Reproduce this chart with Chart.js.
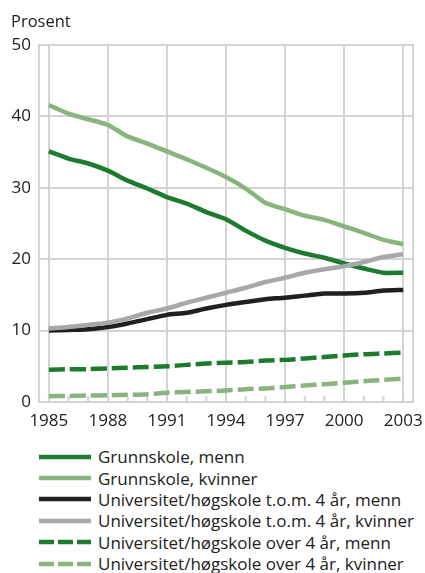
<!DOCTYPE html>
<html>
<head>
<meta charset="utf-8">
<script src="https://cdn.jsdelivr.net/npm/chart.js@4/dist/chart.umd.min.js"></script>
<style>
    body { margin: 0; background: #fff; font-family: "Open Sans", sans-serif; color: #222; }
    #wrap { position: relative; width: 425px; height: 573px; overflow: hidden; }
    #chartBox { position: absolute; left: 0; top: 0; width: 425px; height: 440px; }
    #unit { position: absolute; left: 11px; top: 9px; font-size: 16.5px; }
    #legend { position: absolute; left: 39px; top: 446px; }
    .row { display: flex; align-items: center; height: 21.4px; font-size: 17px; white-space: nowrap; }
    .row svg { width: 52px; height: 10px; margin-right: 7px; }
</style>
</head>
<body>
<div id="wrap">
    <div id="chartBox"><canvas id="chart" width="425" height="440"></canvas></div>
    <div id="unit">Prosent</div>
    <div id="legend"></div>
</div>
<script>
// Data
const years = [1985, 1986, 1987, 1988, 1989, 1990, 1991, 1992, 1993, 1994,
               1995, 1996, 1997, 1998, 1999, 2000, 2001, 2002, 2003];
const xTickYears = [1985, 1988, 1991, 1994, 1997, 2000, 2003];
const yTicks = [0, 10, 20, 30, 40, 50];

const grunnMenn      = [35.1, 34.1, 33.4, 32.4, 31.0, 29.9, 28.7, 27.8, 26.6, 25.6, 24.0, 22.6, 21.6, 20.8, 20.2, 19.4, 18.7, 18.1, 18.1];
const grunnKvinner   = [41.6, 40.4, 39.6, 38.8, 37.2, 36.2, 35.1, 34.0, 32.8, 31.5, 29.9, 27.9, 27.0, 26.1, 25.5, 24.6, 23.7, 22.7, 22.1];
const uniKortMenn    = [10.0, 10.1, 10.2, 10.5, 11.0, 11.6, 12.2, 12.5, 13.1, 13.6, 14.0, 14.4, 14.6, 14.9, 15.2, 15.2, 15.3, 15.6, 15.7];
const uniKortKvinner = [10.3, 10.5, 10.8, 11.1, 11.7, 12.5, 13.1, 13.9, 14.6, 15.3, 16.0, 16.8, 17.4, 18.1, 18.6, 19.0, 19.6, 20.3, 20.7];
const uniLangMenn    = [4.5, 4.6, 4.6, 4.7, 4.8, 4.9, 5.0, 5.2, 5.4, 5.5, 5.6, 5.8, 5.9, 6.1, 6.3, 6.5, 6.7, 6.8, 6.9];
const uniLangKvinner = [0.8, 0.85, 0.9, 0.95, 1.0, 1.1, 1.3, 1.4, 1.5, 1.6, 1.8, 1.9, 2.1, 2.3, 2.5, 2.7, 2.9, 3.1, 3.3];

const DARK_GREEN = '#1d7a2f';
const LIGHT_GREEN = '#8ab47e';
const BLACK = '#231f20';
const GREY = '#a8a8ab';
const GRID = '#d3d3d3';

const series = [
    { label: 'Grunnskole, menn', values: grunnMenn, color: DARK_GREEN, dash: [] },
    { label: 'Grunnskole, kvinner', values: grunnKvinner, color: LIGHT_GREEN, dash: [] },
    { label: 'Universitet/høgskole t.o.m. 4 år, menn', values: uniKortMenn, color: BLACK, dash: [] },
    { label: 'Universitet/høgskole t.o.m. 4 år, kvinner', values: uniKortKvinner, color: GREY, dash: [] },
    { label: 'Universitet/høgskole over 4 år, menn', values: uniLangMenn, color: DARK_GREEN, dash: [16, 5] },
    { label: 'Universitet/høgskole over 4 år, kvinner', values: uniLangKvinner, color: LIGHT_GREEN, dash: [16, 5] }
];

// Draw order: later series on top, like the reference
const drawOrder = [5, 4, 3, 2, 1, 0];

const tickFont = { family: '"Open Sans", sans-serif', size: 17 };

// small year ticks on the bottom axis + right frame line
const framePlugin = {
    id: 'frame',
    beforeDatasetsDraw(chart) {
        const { ctx, chartArea, scales } = chart;
        ctx.save();
        ctx.strokeStyle = GRID;
        ctx.lineWidth = 2;
        ctx.beginPath();
        years.forEach(yr => {
            const x = scales.x.getPixelForValue(yr);
            ctx.moveTo(x, chartArea.bottom);
            ctx.lineTo(x, chartArea.bottom - 6);
        });
        ctx.moveTo(chartArea.right, chartArea.top - 1);
        ctx.lineTo(chartArea.right, chartArea.bottom + 1);
        ctx.stroke();
        ctx.restore();
    }
};

new Chart(document.getElementById('chart'), {
    type: 'line',
    data: {
        datasets: drawOrder.map(i => ({
            label: series[i].label,
            data: years.map((yr, k) => ({ x: yr, y: series[i].values[k] })),
            borderColor: series[i].color,
            borderDash: series[i].dash,
            borderWidth: 4.5,
            borderCapStyle: 'butt',
            borderJoinStyle: 'round',
            pointRadius: 0,
            tension: 0.25,
            fill: false
        }))
    },
    options: {
        responsive: false,
        animation: false,
        layout: { padding: { top: 45, right: 12, left: 0, bottom: 0 } },
        plugins: { legend: { display: false }, tooltip: { enabled: false } },
        scales: {
            x: {
                type: 'linear',
                min: 1984.5,
                max: 2003.5,
                afterBuildTicks: scale => { scale.ticks = xTickYears.map(v => ({ value: v })); },
                afterFit: scale => {
                    scale.height = 38;
                    scale.paddingLeft = 0;
                    scale.paddingRight = 0;
                },
                grid: { color: GRID, lineWidth: 2, drawTicks: false },
                border: { color: GRID, width: 2 },
                ticks: {
                    font: tickFont,
                    color: '#222',
                    padding: 9,
                    maxRotation: 0,
                    autoSkip: false,
                    callback: v => String(v)
                }
            },
            y: {
                min: 0,
                max: 50,
                afterBuildTicks: scale => { scale.ticks = yTicks.map(v => ({ value: v })); },
                afterFit: scale => { scale.width = 39; },
                grid: { color: GRID, lineWidth: 2, drawTicks: false },
                border: { color: GRID, width: 2 },
                ticks: { font: tickFont, color: '#222', padding: 8, callback: v => String(v) }
            }
        }
    },
    plugins: [framePlugin]
});

// Legend
const legend = document.getElementById('legend');
series.forEach(s => {
    const row = document.createElement('div');
    row.className = 'row';
    const dashAttr = s.dash.length ? `stroke-dasharray="15 4"` : '';
    row.innerHTML = `<svg viewBox="0 0 52 10"><line x1="0" y1="5" x2="52" y2="5" stroke="${s.color}" stroke-width="4.5" ${dashAttr}/></svg><span>${s.label}</span>`;
    legend.appendChild(row);
});
</script>
</body>
</html>
